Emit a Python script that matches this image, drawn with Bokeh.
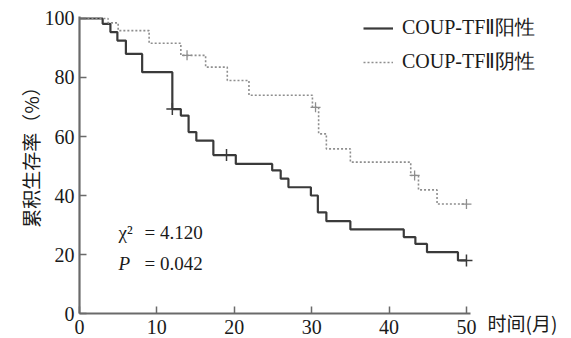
import math
from bokeh.plotting import figure
from bokeh.models import Range1d, Label, Legend, LegendItem, FixedTicker
from bokeh.embed import file_html
from bokeh.resources import INLINE

# Data (months, cumulative survival %)
t_pos = [0, 3.0, 4.0, 4.9, 6.0, 8.1, 12.0, 13.1, 14.1, 15.1, 17.3, 20.2, 24.9, 26.0,
         27.0, 29.9, 30.8, 31.9, 35.0, 41.9, 43.4, 44.9, 48.9, 50.0]
s_pos = [100, 98.2, 95.4, 92.5, 88.0, 81.8, 69.3, 67.1, 61.5, 58.6, 53.7, 50.7, 48.5, 45.7,
         42.8, 40.0, 34.3, 31.3, 28.5, 25.9, 23.6, 20.8, 18.0, 18.0]
cens_t_pos = [12.0, 19.0, 50.0]
cens_s_pos = [69.3, 53.7, 18.0]

t_neg = [0, 3.7, 5.0, 9.0, 13.1, 16.3, 19.1, 21.9, 30.1, 30.9, 31.9, 35.0, 42.8, 43.8, 46.2, 50.0]
s_neg = [100, 98.5, 95.9, 91.6, 87.5, 83.5, 79.0, 74.0, 69.9, 60.9, 55.8, 51.3, 46.8, 41.9, 37.1, 37.1]
cens_t_neg = [13.9, 30.5, 43.3, 50.0]
cens_s_neg = [87.5, 69.9, 46.8, 37.1]

x_ticks = [0, 10, 20, 30, 40, 50]
y_ticks = [0, 20, 40, 60, 80, 100]
label_pos = "COUP-TFⅡ阳性"
label_neg = "COUP-TFⅡ阴性"
y_title = "累积生存率（%）"
x_title = "时间(月)"
stat_chi = ("χ²", "= 4.120")
stat_p = ("P", "= 0.042")

SERIF = "Liberation Serif"
CJK = "Noto Sans CJK SC"
AX = "#6a6a6a"
DARK = "#3a3a3a"
LIGHT = "#8e8e8e"
TXT = "#1a1a1a"

p = figure(width=571, height=338, output_backend="svg", toolbar_location=None,
           x_range=Range1d(-10.2, 63.57), y_range=Range1d(-8.47, 106.1),
           min_border_left=0, min_border_right=0, min_border_top=0, min_border_bottom=0)
p.xgrid.visible = False
p.ygrid.visible = False
p.outline_line_color = None
p.background_fill_color = "white"

for ax, ticks in ((p.xaxis, x_ticks), (p.yaxis, y_ticks)):
    ax.ticker = FixedTicker(ticks=ticks)
    ax.fixed_location = 0
    ax.axis_line_color = AX
    ax.axis_line_width = 2.2
    ax.major_tick_line_color = AX
    ax.major_tick_line_width = 1.5
    ax.major_tick_in = 7
    ax.major_tick_out = 0
    ax.minor_tick_line_color = None
    ax.major_label_text_font = SERIF
    ax.major_label_text_font_size = "20px"
    ax.major_label_text_color = TXT
p.xaxis.bounds = (0, 50.5)
p.yaxis.bounds = (0, 100.7)
p.xaxis.major_label_standoff = 6
p.yaxis.major_label_standoff = 5

r_pos = p.step(t_pos, s_pos, mode="after", line_color=DARK, line_width=2.2)
r_neg = p.step(t_neg, s_neg, mode="after", line_color=LIGHT, line_width=1.6, line_dash="2 2")
p.scatter(cens_t_pos, cens_s_pos, marker="cross", size=12, line_color=DARK, line_width=1.5)
p.scatter(cens_t_neg, cens_s_neg, marker="cross", size=10, line_color=LIGHT, line_width=1.3)

legend = Legend(items=[LegendItem(label=label_pos, renderers=[r_pos]),
                       LegendItem(label=label_neg, renderers=[r_neg])],
                location=(363, 263), glyph_width=30, glyph_height=20, label_height=20,
                spacing=7, padding=0, margin=0, label_standoff=9,
                border_line_color=None, background_fill_alpha=0,
                label_text_font=SERIF, label_text_font_size="20px", label_text_color=TXT)
p.add_layout(legend)

# y-axis title (rotated) and x-axis title placed beside the axis end
p.add_layout(Label(x=-6.3, y=54.6, text=y_title, angle=math.pi / 2,
                   text_align="center", text_baseline="middle",
                   text_font=CJK, text_font_size="19px", text_color=TXT))
p.add_layout(Label(x=50, y=0, x_offset=21, y_offset=-9, text=x_title, text_baseline="middle",
                   text_font=CJK, text_font_size="19px", text_color=TXT))

p.add_layout(Label(x=5.04, y=27.6, text=stat_chi[0], text_baseline="middle",
                   text_font=SERIF, text_font_size="19px", text_color=TXT))
p.add_layout(Label(x=8.4, y=27.6, text=stat_chi[1], text_baseline="middle",
                   text_font=SERIF, text_font_size="19px", text_color=TXT))
p.add_layout(Label(x=5.04, y=17.05, text=stat_p[0], text_baseline="middle",
                   text_font=SERIF, text_font_style="italic", text_font_size="19px", text_color=TXT))
p.add_layout(Label(x=8.4, y=17.05, text=stat_p[1], text_baseline="middle",
                   text_font=SERIF, text_font_size="19px", text_color=TXT))

open("out.html", "w").write(file_html(p, INLINE))
